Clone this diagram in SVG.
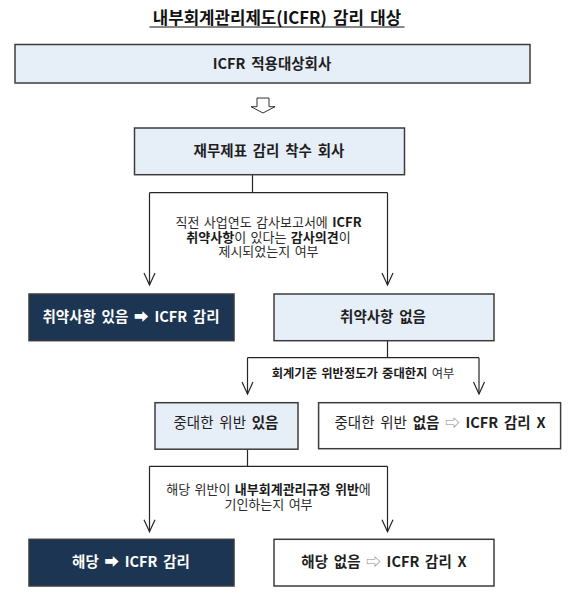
<svg xmlns="http://www.w3.org/2000/svg" width="573" height="607" viewBox="0 0 573 607">
<defs>
<style>
text{font-family:"Noto Sans CJK KR","Noto Sans",sans-serif;fill:#1f1f1f;text-anchor:middle}
.title{font-size:16.8px;font-weight:700;fill:#111;word-spacing:2.5px}
.bx{stroke:#3c3c3c;stroke-width:1.5}
.light{fill:#e6eef8}
.white{fill:#ffffff}
.dark{fill:#1c3553}
.t{font-size:14.5px;font-weight:700;word-spacing:2.5px}
.tw{fill:#ffffff}
.n{font-weight:400}
.ar{font-weight:400;fill:#8a8a8a}
.lbl{font-size:13px;fill:#2b2b2b;word-spacing:1.5px}
.b{font-weight:700;fill:#1a1a1a}
.conn{stroke:#262626;stroke-width:1.2;fill:none}
</style>
<marker id="v" markerUnits="userSpaceOnUse" markerWidth="14" markerHeight="14" viewBox="-13 -7 14 14" refX="0" refY="0" orient="auto"><path d="M-12,-5.5 L0,0 L-12,5.5" fill="none" stroke="#262626" stroke-width="1.2"/></marker>
</defs>
<rect width="573" height="607" fill="#ffffff"/>
<g id="title">
<text class="title" x="277" y="24">내부회계관리제도(ICFR) 감리 대상</text>
<line x1="149.5" y1="27" x2="404.5" y2="27" stroke="#111" stroke-width="1"/>
</g>
<g id="connectors">
<polygon points="257,98 269,98 269,106.7 275,106.7 263,113 251,106.7 257,106.7" fill="#ffffff" stroke="#333" stroke-width="1"/>
<path class="conn" d="M252.5,174.7 V192.7 M149.5,192.7 H387.5"/>
<path class="conn" d="M149.5,192.7 V285" marker-end="url(#v)"/>
<path class="conn" d="M387.5,192.7 V285" marker-end="url(#v)"/>
<path class="conn" d="M387.5,341 V357.7 M247.5,357.7 H479"/>
<path class="conn" d="M247.5,357.7 V394" marker-end="url(#v)"/>
<path class="conn" d="M479,357.7 V394" marker-end="url(#v)"/>
<path class="conn" d="M247.5,449.3 V466.3 M149.5,466.3 H387.5"/>
<path class="conn" d="M149.5,466.3 V531.7" marker-end="url(#v)"/>
<path class="conn" d="M387.5,466.3 V531.7" marker-end="url(#v)"/>
</g>
<g id="label1">
<text class="lbl" x="268.5" y="227.3">직전 사업연도 감사보고서에 <tspan class="b">ICFR</tspan><tspan x="268.5" dy="14.4"><tspan class="b">취약사항</tspan>이 있다는 <tspan class="b">감사의견</tspan>이</tspan><tspan x="268.5" dy="14.3">제시되었는지 여부</tspan></text>
</g>
<g id="label2">
<text class="lbl" x="363" y="378.3" style="font-size:12.3px"><tspan class="b">회계기준 위반정도가 중대한지</tspan> 여부</text>
</g>
<g id="label3">
<text class="lbl" x="268.5" y="494">해당 위반이 <tspan class="b">내부회계관리규정 위반</tspan>에<tspan x="268.5" dy="15">기인하는지 여부</tspan></text>
</g>
<g id="node-icfr-target">
<rect class="bx light" x="15" y="44.5" width="515" height="38.5"/>
<text class="t" x="272" y="69">ICFR 적용대상회사</text>
</g>
<g id="node-audit-start">
<rect class="bx light" x="134.5" y="128" width="270" height="46.7"/>
<text class="t" x="269" y="156">재무제표 감리 착수 회사</text>
</g>
<g id="node-weakness-yes">
<rect class="bx dark" x="29" y="294" width="205" height="46.7"/>
<text class="t tw" x="131" y="321.7">취약사항 있음 ➡ ICFR  감리</text>
</g>
<g id="node-weakness-no">
<rect class="bx light" x="274" y="294" width="220" height="46.7"/>
<text class="t" x="383" y="321.7">취약사항 없음</text>
</g>
<g id="node-material-yes">
<rect class="bx light" x="155" y="402.7" width="143" height="46.5"/>
<text class="t" x="226" y="428.3"><tspan class="n">중대한 위반</tspan> 있음</text>
</g>
<g id="node-material-no">
<rect class="bx white" x="318.6" y="402.7" width="242" height="46"/>
<text class="t" x="440" y="428.3"><tspan class="n">중대한 위반</tspan> 없음 <tspan class="ar">⇨</tspan> ICFR 감리 X</text>
</g>
<g id="node-applicable">
<rect class="bx dark" x="29" y="539.3" width="205" height="46.7"/>
<text class="t tw" x="131" y="566.7">해당 ➡ ICFR  감리</text>
</g>
<g id="node-not-applicable">
<rect class="bx white" x="274" y="539.3" width="220" height="46.7"/>
<text class="t" x="384" y="566.7">해당 없음 <tspan class="ar">⇨</tspan> ICFR 감리 X</text>
</g>
</svg>
